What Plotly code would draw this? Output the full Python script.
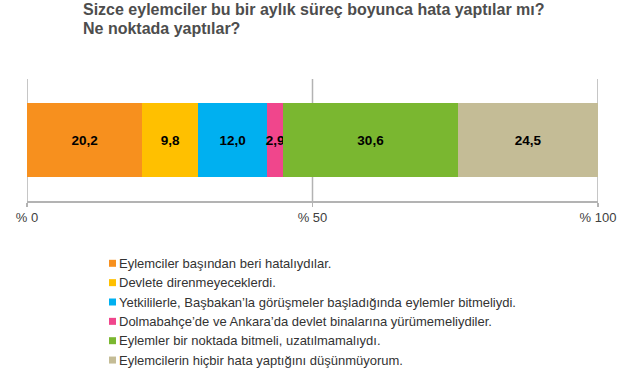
import plotly.graph_objects as go

categories = [
    "Eylemciler başından beri hatalıydılar.",
    "Devlete direnmeyeceklerdi.",
    "Yetkililerle, Başbakan’la görüşmeler başladığında eylemler bitmeliydi.",
    "Dolmabahçe’de ve Ankara’da devlet binalarına yürümemeliydiler.",
    "Eylemler bir noktada bitmeli, uzatılmamalıydı.",
    "Eylemcilerin hiçbir hata yaptığını düşünmüyorum.",
]
values = [20.2, 9.8, 12.0, 2.9, 30.6, 24.5]
colors = ["#F7901E", "#FFC000", "#00B0F0", "#F0468C", "#7AB730", "#C4BC96"]
tick_values = [0, 50, 100]
tick_labels = ["% 0", "% 50", "% 100"]
title_lines = ["Sizce eylemciler bu bir aylık süreç boyunca hata yaptılar mı?",
               "Ne noktada yaptılar?"]

W, H = 630, 370
L, R, T, B = 27, 32, 79, 169  # plot area 27..598 x 79..201
PW = W - L - R
PH = H - T - B
GRID = "#B3B3B3"


def px_x(x):
    return (x - L) / PW


def px_y(y):
    return (H - B - y) / PH


fig = go.Figure()
for name, v, c in zip(categories, values, colors):
    fig.add_trace(go.Bar(
        y=[""], x=[v], name=name, orientation="h",
        marker=dict(color=c, line=dict(width=0)),
        text=[v], texttemplate="%{x:.1f}", textposition="inside",
        insidetextanchor="middle", constraintext="none", textangle=0,
        textfont=dict(family="Liberation Sans", size=13.5, color="black", weight="bold"),
        showlegend=False, hoverinfo="skip",
    ))

ann = []
shapes = []

# vertical grid lines beneath the bars
for tv in tick_values:
    shapes.append(dict(type="line", xref="x", yref="paper", x0=tv, x1=tv, y0=0, y1=1,
                       layer="below", line=dict(color=GRID, width=1.5)))

# custom legend built from the category list
row0 = 263.3
step = 19.35
for i, (name, c) in enumerate(zip(categories, colors)):
    yc = row0 + i * step
    shapes.append(dict(type="rect", xref="paper", yref="paper",
                       x0=px_x(109), x1=px_x(116),
                       y0=px_y(yc + 3.5), y1=px_y(yc - 3.5),
                       fillcolor=c, line=dict(width=0)))
    ann.append(dict(xref="paper", yref="paper",
                    x=px_x(117), y=px_y(yc),
                    xanchor="left", yanchor="middle", showarrow=False,
                    text=name, font=dict(family="Liberation Sans", size=13, color="#333333")))

for j, line in enumerate(title_lines):
    ann.append(dict(xref="paper", yref="paper",
                    x=px_x(81), y=px_y(9.5 + j * 18.7),
                    xanchor="left", yanchor="middle", showarrow=False, align="left",
                    text="<b>" + line + "</b>",
                    font=dict(family="Liberation Sans", size=16, color="#4D4D4D")))

fig.update_layout(
    width=W, height=H,
    margin=dict(l=L, r=R, t=T, b=B, autoexpand=False),
    barmode="stack", bargap=0.39,
    separators=",.",
    hovermode=False,
    plot_bgcolor="white", paper_bgcolor="white",
    xaxis=dict(range=[0, 100], tickvals=tick_values, ticktext=tick_labels,
               showgrid=False,
               showline=True, linecolor=GRID, linewidth=1.5,
               ticks="outside", ticklen=4, tickcolor=GRID, tickwidth=1.5,
               zeroline=False,
               tickfont=dict(family="Liberation Sans", size=13, color="#404040")),
    yaxis=dict(showticklabels=False, showgrid=False, zeroline=False, fixedrange=True),
    annotations=ann, shapes=shapes,
)

fig.write_html("out.html", config={"displayModeBar": False, "staticPlot": True},
               post_script="document.body.style.margin='0';document.body.style.padding='0';")
